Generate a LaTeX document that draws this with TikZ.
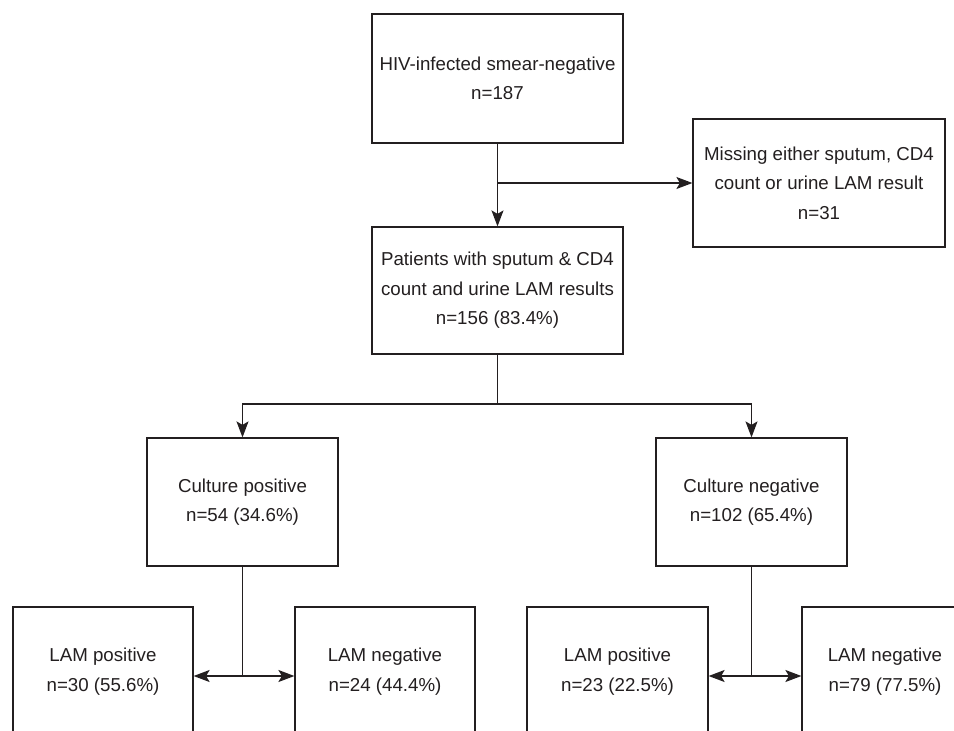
\documentclass[tikz,border=0pt]{standalone}
\usepackage{fontspec}
\setmainfont{Liberation Sans}
\usetikzlibrary{arrows.meta,calc}
\definecolor{ink}{RGB}{35,31,32}
\tikzset{
  box/.style={draw=ink, line width=1.2pt, text=ink, align=center, inner sep=0pt,
    font=\fontsize{18.7}{29.5}\selectfont},
  conn/.style={draw=ink, line width=1.2pt},
  arr/.style={conn, -{Stealth[length=16pt,width=12pt,inset=3.5pt,fill=ink]}},
  darr/.style={conn, line width=1.6pt, {Stealth[length=16pt,width=12pt,inset=3.5pt,fill=ink]}-{Stealth[length=16pt,width=12pt,inset=3.5pt,fill=ink]}}
}
\begin{document}
\begin{tikzpicture}[x=1pt,y=-1pt]
\useasboundingbox (0,0) rectangle (954,731);
\clip (0,0) rectangle (954,731);
\fill[white] (0,0) rectangle (954,731);

\node[box, minimum width=251pt, minimum height=129pt] (top) at (497.5,78.5) {HIV-infected smear-negative\\n=187};
\node[box, minimum width=252pt, minimum height=128pt] (miss) at (819,183) {Missing either sputum, CD4\\count or urine LAM result\\n=31};
\node[box, minimum width=251pt, minimum height=127pt] (pat) at (497.5,290.5) {Patients with sputum \& CD4\\count and urine LAM results\\n=156 (83.4\%)};
\node[box, minimum width=191pt, minimum height=128pt] (cp) at (242.5,502) {Culture positive\\n=54 (34.6\%)};
\node[box, minimum width=191pt, minimum height=128pt] (cn) at (751.5,502) {Culture negative\\n=102 (65.4\%)};
\node[box, minimum width=180pt, minimum height=129pt] (lp1) at (103,671.5) {LAM positive\\n=30 (55.6\%)};
\node[box, minimum width=180pt, minimum height=129pt] (ln1) at (385,671.5) {LAM negative\\n=24 (44.4\%)};
\node[box, minimum width=181pt, minimum height=129pt] (lp2) at (617.5,671.5) {LAM positive\\n=23 (22.5\%)};
\node[box, minimum width=166pt, minimum height=129pt] (ln2) at (885,671.5) {LAM negative\\n=79 (77.5\%)};

\coordinate (j1) at (497.5,183);
\coordinate (j2) at (497.5,404);
\coordinate (j3) at (242.5,676);
\coordinate (j4) at (751.5,676);

\draw[arr] (top.south) -- (pat.north);
\draw[arr] (j1) -- (miss.west);
\draw[conn] (pat.south) -- (j2);
\draw[arr] (j2) -| (cp.north);
\draw[arr] (j2) -| (cn.north);
\draw[conn] (cp.south) -- (j3);
\draw[conn] (cn.south) -- (j4);
\draw[darr] (j3 -| lp1.east) -- (j3 -| ln1.west);
\draw[darr] (j4 -| lp2.east) -- (j4 -| ln2.west);
\end{tikzpicture}
\end{document}
